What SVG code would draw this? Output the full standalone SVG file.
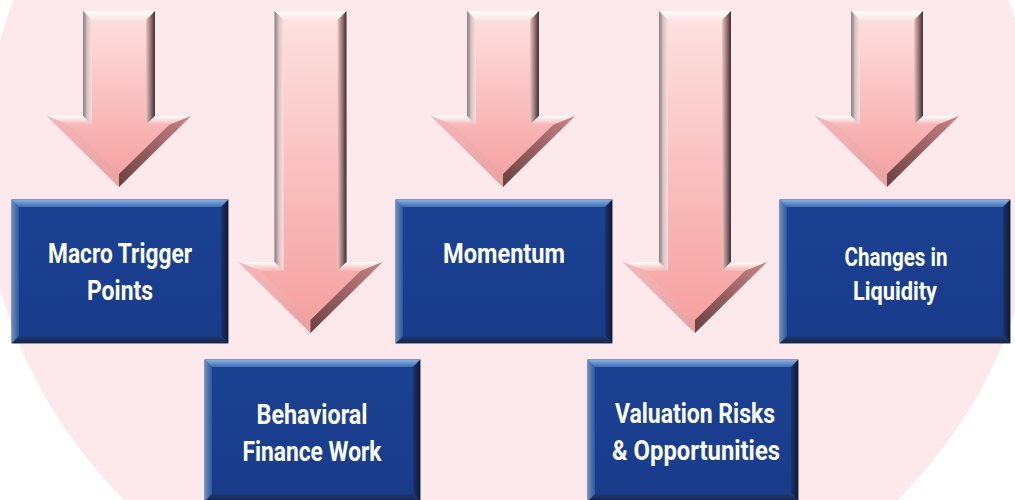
<svg xmlns="http://www.w3.org/2000/svg" xmlns:xlink="http://www.w3.org/1999/xlink" width="1015" height="500" viewBox="0 0 1015 500">
  <defs>
    <style>
      .label { font-family: Roboto, "Liberation Sans", sans-serif; font-weight: bold; font-size: 28px; fill: #ffffff; text-anchor: middle; }
      .small { font-size: 26px; }
      .bx-border { fill: #4a6489; stroke: #2a3b55; stroke-width: 1; }
      .bx-top { fill: url(#bxTop); }
      .bx-left { fill: url(#bxLeft); }
      .bx-right { fill: url(#bxRight); }
      .bx-bottom { fill: url(#bxBottom); }
      .bx-face { fill: url(#bxFace); }
      .ar-face { fill: url(#arFace); }
      .ar-top { fill: url(#arTop); }
      .ar-left { fill: url(#arLeft); }
      .ar-right { fill: url(#arRight); }
      .ar-ledge { fill: url(#arLedge); }
      .ar-low-l { fill: url(#arLowL); }
      .ar-low-r { fill: url(#arLowR); }
    </style>

    <!-- box bevel shading -->
    <linearGradient id="bxTop" x1="0" y1="0" x2="0" y2="1">
      <stop offset="0" stop-color="#86afe2"/>
      <stop offset="1" stop-color="#3f6db5"/>
    </linearGradient>
    <linearGradient id="bxLeft" x1="0" y1="0" x2="1" y2="0">
      <stop offset="0" stop-color="#6b8cbc"/>
      <stop offset="1" stop-color="#2f579f"/>
    </linearGradient>
    <linearGradient id="bxRight" x1="0" y1="0" x2="1" y2="0">
      <stop offset="0" stop-color="#1b3470"/>
      <stop offset="1" stop-color="#0e1a33"/>
    </linearGradient>
    <linearGradient id="bxBottom" x1="0" y1="0" x2="0" y2="1">
      <stop offset="0" stop-color="#1d387a"/>
      <stop offset="1" stop-color="#15264a"/>
    </linearGradient>
    <linearGradient id="bxFace" x1="0" y1="0" x2="0" y2="1">
      <stop offset="0" stop-color="#1b4192"/>
      <stop offset="1" stop-color="#183c8a"/>
    </linearGradient>

    <!-- arrow bevel shading -->
    <linearGradient id="arFace" x1="0" y1="0" x2="0" y2="1">
      <stop offset="0" stop-color="#fde2e2"/>
      <stop offset="1" stop-color="#f59e9e"/>
    </linearGradient>
    <linearGradient id="arTop" x1="0" y1="0" x2="0" y2="1">
      <stop offset="0" stop-color="#ffffff"/>
      <stop offset="1" stop-color="#fbe4e4"/>
    </linearGradient>
    <linearGradient id="arLeft" x1="0" y1="0" x2="1" y2="0">
      <stop offset="0" stop-color="#8c7c7c"/>
      <stop offset="0.5" stop-color="#d9c4c4"/>
      <stop offset="1" stop-color="#fbe0e0"/>
    </linearGradient>
    <linearGradient id="arRight" x1="0" y1="0" x2="1" y2="0">
      <stop offset="0" stop-color="#ecc4c4"/>
      <stop offset="0.6" stop-color="#8a6a6a"/>
      <stop offset="1" stop-color="#3a2c2c"/>
    </linearGradient>
    <linearGradient id="arLedge" x1="0" y1="0" x2="0" y2="1">
      <stop offset="0" stop-color="#ffffff"/>
      <stop offset="1" stop-color="#f6b4b4"/>
    </linearGradient>
    <linearGradient id="arLowL" x1="0" y1="0" x2="1" y2="1">
      <stop offset="0" stop-color="#f6b8b8"/>
      <stop offset="1" stop-color="#eaa0a0"/>
    </linearGradient>
    <linearGradient id="arLowR" x1="1" y1="0" x2="0" y2="1">
      <stop offset="0" stop-color="#c88484"/>
      <stop offset="1" stop-color="#6a4040"/>
    </linearGradient>

    <!-- short down arrow, centred on x=0, top at y=0 -->
    <g id="arrowShort">
      <path class="ar-face" d="M-36,0 H36 V105 H72 L0,176 L-72,105 H-36 Z"/>
      <polygon class="ar-top" points="-36,0 36,0 27,9 -27,9"/>
      <polygon class="ar-left" points="-36,0 -27,9 -27,114 -36,105"/>
      <polygon class="ar-right" points="36,0 36,105 27,114 27,9"/>
      <polygon class="ar-ledge" points="-72,105 -36,105 -27,114 -50,114"/>
      <polygon class="ar-ledge" points="36,105 72,105 50,114 27,114"/>
      <polygon class="ar-low-l" points="-72,105 -50,114 0,163 0,176"/>
      <polygon class="ar-low-r" points="72,105 0,176 0,163 50,114"/>
    </g>

    <!-- long down arrow, centred on x=0, top at y=0 -->
    <g id="arrowLong">
      <path class="ar-face" d="M-36,0 H36 V251 H72 L0,322 L-72,251 H-36 Z"/>
      <polygon class="ar-top" points="-36,0 36,0 27,9 -27,9"/>
      <polygon class="ar-left" points="-36,0 -27,9 -27,260 -36,251"/>
      <polygon class="ar-right" points="36,0 36,251 27,260 27,9"/>
      <polygon class="ar-ledge" points="-72,251 -36,251 -27,260 -50,260"/>
      <polygon class="ar-ledge" points="36,251 72,251 50,260 27,260"/>
      <polygon class="ar-low-l" points="-72,251 -50,260 0,309 0,322"/>
      <polygon class="ar-low-r" points="72,251 0,322 0,309 50,260"/>
    </g>
  </defs>

  <!-- backdrop -->
  <rect x="0" y="0" width="1015" height="500" fill="#ffffff"/>
  <ellipse cx="511" cy="165" rx="528" ry="492" fill="#fde9ec"/>

  <!-- downward arrows -->
  <g id="connectors">
    <use xlink:href="#arrowShort" transform="translate(119,11)"/>
    <use xlink:href="#arrowLong" transform="translate(310.5,11)"/>
    <use xlink:href="#arrowShort" transform="translate(503,11)"/>
    <use xlink:href="#arrowLong" transform="translate(695,11)"/>
    <use xlink:href="#arrowShort" transform="translate(887,11)"/>
  </g>

  <g id="macro-trigger-points">
    <rect class="bx-border" x="12" y="200" width="216" height="143"/>
    <polygon class="bx-top" points="12,200 228,200 221,207 19,207"/>
    <polygon class="bx-left" points="12,200 19,207 19,336 12,343"/>
    <polygon class="bx-right" points="228,200 228,343 221,336 221,207"/>
    <polygon class="bx-bottom" points="12,343 228,343 221,336 19,336"/>
    <rect class="bx-face" x="19" y="207" width="202" height="129"/>
    <text class="label" x="120" y="263" textLength="144" lengthAdjust="spacingAndGlyphs">Macro Trigger</text>
    <text class="label" x="120" y="300" textLength="66" lengthAdjust="spacingAndGlyphs">Points</text>
  </g>

  <g id="behavioral-finance-work">
    <rect class="bx-border" x="205" y="360" width="215" height="141"/>
    <polygon class="bx-top" points="205,360 420,360 413,367 212,367"/>
    <polygon class="bx-left" points="205,360 212,367 212,494 205,501"/>
    <polygon class="bx-right" points="420,360 420,501 413,494 413,367"/>
    <polygon class="bx-bottom" points="205,501 420,501 413,494 212,494"/>
    <rect class="bx-face" x="212" y="367" width="201" height="127"/>
    <text class="label" x="312" y="424" textLength="111" lengthAdjust="spacingAndGlyphs">Behavioral</text>
    <text class="label" x="312" y="461" textLength="139" lengthAdjust="spacingAndGlyphs">Finance Work</text>
  </g>

  <g id="momentum">
    <rect class="bx-border" x="396" y="200" width="216" height="143"/>
    <polygon class="bx-top" points="396,200 612,200 605,207 403,207"/>
    <polygon class="bx-left" points="396,200 403,207 403,336 396,343"/>
    <polygon class="bx-right" points="612,200 612,343 605,336 605,207"/>
    <polygon class="bx-bottom" points="396,343 612,343 605,336 403,336"/>
    <rect class="bx-face" x="403" y="207" width="202" height="129"/>
    <text class="label" x="504" y="263" textLength="122" lengthAdjust="spacingAndGlyphs">Momentum</text>
  </g>

  <g id="valuation-risks-opportunities">
    <rect class="bx-border" x="588" y="360" width="210" height="141"/>
    <polygon class="bx-top" points="588,360 798,360 791,367 595,367"/>
    <polygon class="bx-left" points="588,360 595,367 595,494 588,501"/>
    <polygon class="bx-right" points="798,360 798,501 791,494 791,367"/>
    <polygon class="bx-bottom" points="588,501 798,501 791,494 595,494"/>
    <rect class="bx-face" x="595" y="367" width="196" height="127"/>
    <text class="label" x="695" y="423" textLength="160" lengthAdjust="spacingAndGlyphs">Valuation Risks</text>
    <text class="label" x="696" y="460" textLength="168" lengthAdjust="spacingAndGlyphs">&amp; Opportunities</text>
  </g>

  <g id="changes-in-liquidity">
    <rect class="bx-border" x="780" y="200" width="230" height="143"/>
    <polygon class="bx-top" points="780,200 1010,200 1003,207 787,207"/>
    <polygon class="bx-left" points="780,200 787,207 787,336 780,343"/>
    <polygon class="bx-right" points="1010,200 1010,343 1003,336 1003,207"/>
    <polygon class="bx-bottom" points="780,343 1010,343 1003,336 787,336"/>
    <rect class="bx-face" x="787" y="207" width="216" height="129"/>
    <text class="label small" x="896" y="266" textLength="103" lengthAdjust="spacingAndGlyphs">Changes in</text>
    <text class="label small" x="895" y="300" textLength="84" lengthAdjust="spacingAndGlyphs">Liquidity</text>
  </g>
</svg>
